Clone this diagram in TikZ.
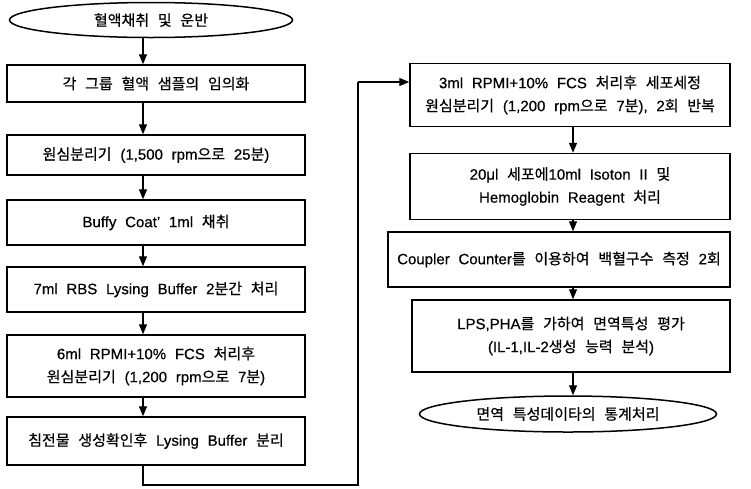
\documentclass[tikz,border=0pt]{standalone}
\usepackage{fontspec}
\setmainfont{Liberation Sans}[WordSpace=2.1,FakeBold=0.5]
\newfontfamily\krfont{Noto Sans CJK KR}[WordSpace=2.6,FakeBold=0.5]
\newcommand\krt[1]{{\krfont #1}}
\usetikzlibrary{shapes.geometric,arrows.meta}
\tikzset{
  boxnode/.style={draw, line width=1.5pt, inner sep=0pt, align=center, font=\fontsize{15}{23}\selectfont},
  ovalnode/.style={draw, ellipse, line width=1.5pt, inner sep=0pt, align=center, font=\fontsize{15}{23}\selectfont},
  arr/.style={line width=1.3pt, -{Triangle[width=8pt,length=10pt]}},
  conn/.style={line width=1.3pt}
}
\begin{document}
\begin{tikzpicture}[x=1pt,y=-1pt]
\useasboundingbox (0,0) rectangle (751,488);
% left column
\node[ovalnode, minimum width=283pt, minimum height=35pt] (e1) at (151,20) {\krt{혈액채취 및 운반}};
\node[boxnode, minimum width=298pt, minimum height=37pt] (b1) at (156,83.5) {\krt{각 그룹 혈액 샘플의 임의화}};
\node[boxnode, minimum width=298pt, minimum height=40pt] (b2) at (156,155) {\krt{원심분리기} (1,500 rpm\krt{으로} 25\krt{분})};
\node[boxnode, minimum width=298pt, minimum height=45pt] (b3) at (156,222.5) {Buffy Coat' 1ml \krt{채취}};
\node[boxnode, minimum width=298pt, minimum height=45pt] (b4) at (156,289.5) {7ml RBS Lysing Buffer 2\krt{분간 처리}};
\node[boxnode, minimum width=298pt, minimum height=62pt] (b5) at (156,366) {6ml RPMI+10\% FCS \krt{처리후}\\\krt{원심분리기} (1,200 rpm\krt{으로} 7\krt{분})};
\node[boxnode, minimum width=298pt, minimum height=48pt] (b6) at (156,441) {\krt{침전물 생성확인후} Lysing Buffer \krt{분리}};
% right column
\node[boxnode, minimum width=320pt, minimum height=63pt] (ra) at (570,95) {3ml RPMI+10\% FCS \krt{처리후 세포세정}\\\krt{원심분리기} (1,200 rpm\krt{으로} 7\krt{분}), 2\krt{회 반복}};
\node[boxnode, minimum width=320pt, minimum height=66pt] (rb) at (570,186.5) {20μl \krt{세포에}10ml Isoton II \krt{및}\\Hemoglobin Reagent \krt{처리}};
\node[boxnode, minimum width=342pt, minimum height=55pt] (rc) at (559,259.5) {Coupler Counter\krt{를 이용하여 백혈구수 측정} 2\krt{회}};
\node[boxnode, minimum width=318pt, minimum height=72pt] (rd) at (571,336) {LPS,PHA\krt{를 가하여 면역특성 평가}\\(IL-1,IL-2\krt{생성 능력 분석})};
\node[ovalnode, minimum width=297pt, minimum height=36pt] (e2) at (568,414) {\krt{면역 특성데이타의 통계처리}};
% connector coordinates
\coordinate (ax) at (143,0);
\coordinate (bx) at (573,0);
\coordinate (c1) at (143,485);
\coordinate (c2) at (358,485);
\coordinate (c3) at (358,82);
% left arrows
\draw[arr] (e1.south -| ax) -- (b1.north -| ax);
\draw[arr] (b1.south -| ax) -- (b2.north -| ax);
\draw[arr] (b2.south -| ax) -- (b3.north -| ax);
\draw[arr] (b3.south -| ax) -- (b4.north -| ax);
\draw[arr] (b4.south -| ax) -- (b5.north -| ax);
\draw[arr] (b5.south -| ax) -- (b6.north -| ax);
% crossover
\draw[conn] (b6.south -| c1) -- (c1) -- (c2) -- (c3);
\draw[arr] (c3) -- (ra.west |- c3);
% right arrows
\draw[arr] (ra.south -| bx) -- (rb.north -| bx);
\draw[arr] (rb.south -| bx) -- (rc.north -| bx);
\draw[arr] (rc.south -| bx) -- (rd.north -| bx);
\draw[arr] (rd.south -| bx) -- (e2.north -| bx);
\end{tikzpicture}
\end{document}
